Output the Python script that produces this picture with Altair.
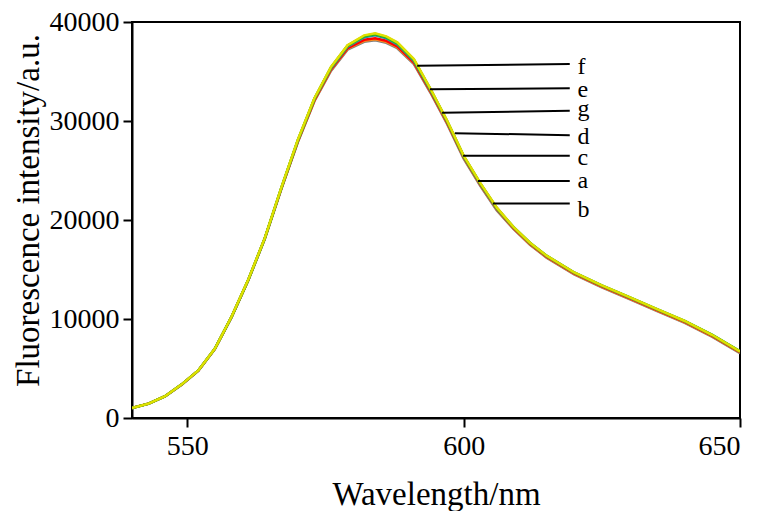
import altair as alt
import pandas as pd

wavelength = [540, 543, 546, 549, 552, 555, 558, 561, 564, 567, 570, 573, 576, 579, 582, 584,
              586, 588, 591, 594, 597, 600, 603, 606, 609, 612, 615, 620, 625, 630, 635, 640, 645, 650]

series_a = [1000, 1430, 2180, 3370, 4760, 6950, 10150, 13850, 18050, 23100, 27850, 32000, 35050, 37200, 38000, 38150,
            37900, 37350, 35750, 32850, 29700, 26200, 23450, 20950, 19100, 17500, 16200, 14500, 13200, 12000, 10800, 9600, 8200, 6550]
series_b = [1020, 1460, 2210, 3400, 4800, 7000, 10200, 13900, 18100, 23150, 27900, 32050, 35150, 37300, 38100, 38250,
            38000, 37450, 35850, 32950, 29800, 26300, 23550, 21050, 19150, 17550, 16250, 14550, 13250, 12050, 10850, 9650, 8250, 6620]
series_c = [1010, 1450, 2200, 3390, 4790, 6990, 10190, 13890, 18090, 23150, 27950, 32100, 35200, 37350, 38200, 38350,
            38100, 37550, 35900, 33000, 29850, 26350, 23600, 21100, 19200, 17600, 16300, 14600, 13300, 12100, 10900, 9700, 8300, 6650]
series_d = [1000, 1450, 2200, 3400, 4800, 7000, 10200, 13900, 18100, 23200, 28000, 32200, 35300, 37500, 38450, 38650,
            38350, 37750, 36050, 33100, 29950, 26400, 23650, 21150, 19250, 17650, 16350, 14650, 13350, 12150, 10950, 9750, 8350, 6700]
series_e = [1000, 1450, 2200, 3400, 4800, 7010, 10210, 13920, 18120, 23220, 28050, 32250, 35400, 37600, 38550, 38750,
            38450, 37850, 36150, 33200, 30000, 26450, 23700, 21200, 19300, 17700, 16400, 14700, 13400, 12200, 11000, 9800, 8400, 6750]
series_f = [1000, 1450, 2200, 3400, 4800, 7010, 10220, 13930, 18140, 23250, 28100, 32300, 35450, 37650, 38650, 38850,
            38550, 37950, 36250, 33250, 30050, 26500, 23750, 21250, 19300, 17700, 16400, 14700, 13400, 12200, 11000, 9800, 8380, 6720]
series_g = [1000, 1450, 2200, 3400, 4800, 7000, 10210, 13910, 18120, 23230, 28070, 32280, 35420, 37620, 38600, 38800,
            38500, 37900, 36200, 33230, 30020, 26480, 23720, 21220, 19280, 17680, 16380, 14680, 13380, 12180, 10980, 9780, 8370, 6710]

series_names = ["a", "b", "c", "d", "e", "f", "g"]
series_colors = ["#808080", "#ff8c1a", "#ff0000", "#2a8fa8", "#22b422", "#e0e000", "#a0a000"]
draw_order = ["a", "b", "c", "d", "g", "e", "f"]

# leader lines: start on curve, end near labels (nm, intensity)
label_names = ["f", "e", "g", "d", "c", "a", "b"]
leader_x1 = [591.6, 593.9, 596.1, 598.4, 599.9, 602.6, 605.3]
leader_y1 = [35570, 33200, 30840, 28770, 26500, 23940, 21670]
leader_x2 = [619.2, 619.2, 619.2, 619.2, 619.2, 619.2, 619.2]
leader_y2 = [35760, 33300, 31030, 28570, 26500, 23940, 21670]
label_x = [620.6, 620.6, 620.6, 620.6, 620.6, 620.6, 620.6]
label_y = [34700, 32400, 30500, 27700, 25600, 23200, 20300]

all_series = dict(zip(series_names, [series_a, series_b, series_c, series_d, series_e, series_f, series_g]))
rows = []
for name in draw_order:
    for w, v in zip(wavelength, all_series[name]):
        rows.append({"wavelength": w, "intensity": v, "series": name, "order": draw_order.index(name)})
df = pd.DataFrame(rows)

ann = pd.DataFrame({"name": label_names, "x1": leader_x1, "y1": leader_y1, "x2": leader_x2,
                    "y2": leader_y2, "lx": label_x, "ly": label_y})

FONT = "Liberation Serif"
xscale = alt.Scale(domain=[540, 650], nice=False, zero=False)
yscale = alt.Scale(domain=[0, 40000], nice=False)

lines = alt.Chart(df).mark_line(strokeWidth=2.5, clip=True).encode(
    x=alt.X("wavelength:Q", scale=xscale,
            axis=alt.Axis(values=[550, 600, 650], title="Wavelength/nm", format="d",
                          titleX=304, titleY=86, titleBaseline="alphabetic", titleAlign="center")),
    y=alt.Y("intensity:Q", scale=yscale,
            axis=alt.Axis(values=[0, 10000, 20000, 30000, 40000], title="Fluorescence intensity/a.u.", format="d",
                          titleX=-94, titleY=188, titleAngle=270, titleBaseline="alphabetic", titleAlign="center")),
    color=alt.Color("series:N", scale=alt.Scale(domain=series_names, range=series_colors), legend=None),
    detail="series:N",
    order=alt.Order("order:Q"),
)

leaders = alt.Chart(ann).mark_rule(color="black", strokeWidth=2).encode(
    x=alt.X("x1:Q", scale=xscale), y=alt.Y("y1:Q", scale=yscale),
    x2="x2:Q", y2="y2:Q",
)

labels = alt.Chart(ann).mark_text(font=FONT, fontSize=24, color="black", align="left",
                                  baseline="alphabetic").encode(
    x=alt.X("lx:Q", scale=xscale), y=alt.Y("ly:Q", scale=yscale), text="name:N",
)

chart = alt.layer(lines, leaders, labels).properties(
    width=608, height=396,
    autosize=alt.AutoSizeParams(type="none"),
    padding={"left": 124, "top": 14, "right": 17, "bottom": 93},
).configure_view(
    stroke="black", strokeWidth=2
).configure_axis(
    grid=False, domainColor="black", domainWidth=2, tickColor="black", tickWidth=2, tickSize=9,
    labelFont=FONT, labelFontSize=28, labelColor="black", labelPadding=4,
    titleFont=FONT, titleFontSize=33, titleFontWeight="normal", titleColor="black",
).configure_axisX(labelPadding=5)

chart.save("out.html", embed_options={"renderer": "svg", "actions": False})
